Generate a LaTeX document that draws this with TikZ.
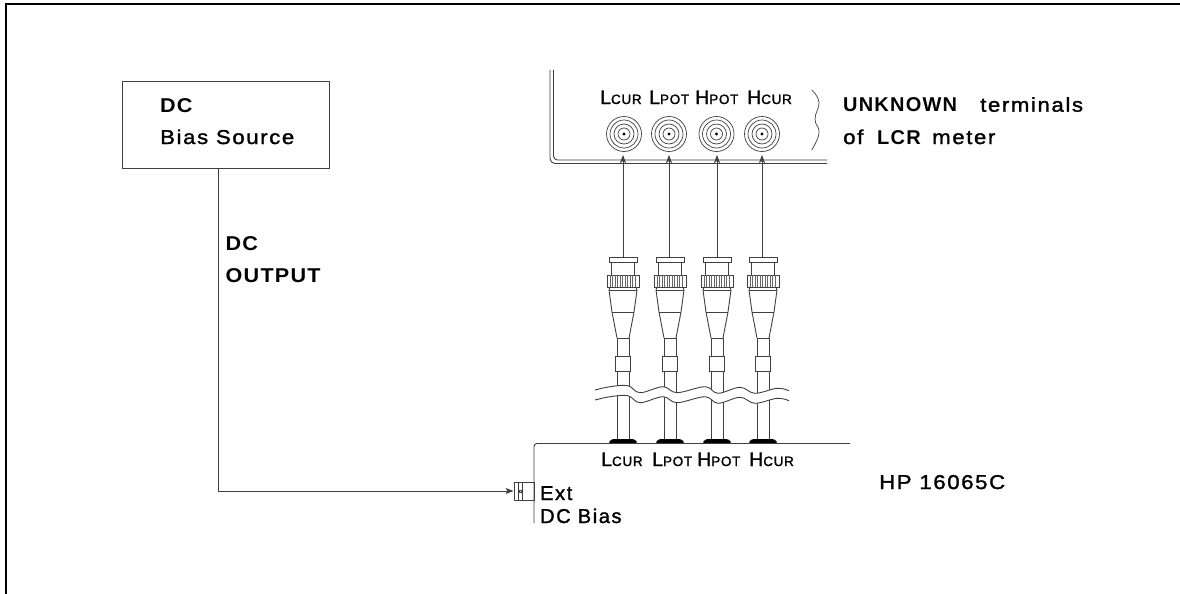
\documentclass[tikz,border=0pt]{standalone}
\usepackage{fontspec}
\setmainfont{Liberation Sans}
\newfontfamily\lab[FakeBold=1.5,FakeStretch=1.11,LetterSpace=8]{Liberation Sans}
\newfontfamily\labb[LetterSpace=6]{Liberation Sans}
\newfontfamily\labs[FakeStretch=1.08,LetterSpace=6]{Liberation Sans}
\newfontfamily\labn[FakeBold=1.5,LetterSpace=8]{Liberation Sans}
\newfontfamily\labt[FakeBold=1.5,LetterSpace=5]{Liberation Sans}
\newcommand{\lgt}[1]{{\fontsize{19.5}{19.5}\selectfont #1}}
\newcommand{\sml}[1]{{\fontsize{13.5}{13.5}\selectfont #1}}
\usetikzlibrary{arrows.meta}
\tikzset{
  x=1pt,y=-1pt,
  thin line/.style={line width=0.9pt,draw=black!75},
  txt/.style={inner sep=0pt,anchor=base west,font=\fontsize{20}{20}\selectfont\lab,text=black},
  btxt/.style={inner sep=0pt,anchor=base west,font=\fontsize{20}{20}\selectfont\labb\bfseries,text=black},
  stxt/.style={inner sep=0pt,anchor=base west,font=\fontsize{20}{20}\selectfont\labs\bfseries,text=black},
  ntxt/.style={inner sep=0pt,anchor=base west,font=\fontsize{20}{20}\selectfont\labn,text=black},
  term/.style={inner sep=0pt,anchor=base west,font=\labt,text=black},
  arrowed/.style={thin line,-{Stealth[length=8pt,width=6pt,inset=2pt]}},
  jackbox/.style={draw=black!75,line width=0.9pt,minimum width=20pt,minimum height=18pt,inner sep=0pt},
  biasbox/.style={draw=black!75,line width=0.9pt,minimum width=207pt,minimum height=87pt,inner sep=0pt},
}
\begin{document}
\begin{tikzpicture}
\useasboundingbox (0,0) rectangle (1180,594);
\fill[white] (0,0) rectangle (1180,594);
% outer frame
\draw[black,line width=2pt] (6,594) -- (6,4) -- (1180,4);
% bias source
\node[biasbox] (bias) at (225.5,124.5) {};
\node[stxt] (biasA) at (160,112.5) {DC};
\node[txt] (biasB) at (160,144) {Bias Source};
\node[stxt] (outA) at (225.5,250) {DC};
\node[stxt] (outB) at (225.5,282) {OUTPUT};
% meter panel
\draw[thin line,rounded corners=5pt] (550,70) -- (550,163.5) -- (827,163.5);
\draw[thin line,rounded corners=4pt] (553.5,70) -- (553.5,160) -- (827,160);
\foreach \n/\l/\s/\x in {a/L/CUR/600,b/L/POT/649,c/H/POT/695,d/H/CUR/747}{
  \node[term] (top\n) at (\x,104) {\lgt{\l}\sml{\s}};
}
\foreach \n/\x in {a/624,b/669,c/716.5,d/762}{
  \coordinate (jack\n) at (\x,134);
  \foreach \r in {17.5,14,10,6}{\draw[thin line,line width=0.7pt] (jack\n) circle (\r);}
  \fill[black] (jack\n) circle (1.7);
}
% brace
\draw[thin line,line width=0.7pt] plot[smooth,tension=0.8] coordinates {(811.7,90) (819,102) (815,119) (819,133) (811.7,150)};
\node[btxt] (unkA) at (843,111.7) {UNKNOWN};
\node[txt] (unkT) at (980,111.7) {terminals};
\node[txt] (unkB) at (843,144) {of};
\node[btxt] (unkC) at (877,144) {LCR};
\node[txt] (unkD) at (932,144) {meter};
% cables
\foreach \n/\c/\ax in {a/623/623,b/670/669,c/717/717,d/763/762}{
\begin{scope}[shift={(\c,0)}]
  \coordinate (cap\n) at (\ax-\c,257);
  \draw[thin line] (-14,257) rectangle (14,262);
  \draw[thin line] (-11.5,262) -- (-11.5,275) (11.5,262) -- (11.5,275);
  \draw[thin line] (-16,275) rectangle (16,287);
  \foreach \k in {-13,-10.5,...,13.5}{\draw[black!60,line width=0.6pt] (\k,275) -- (\k,287);}
  \draw[thin line] (-13,287) -- (-14,290) (13,287) -- (14,290);
  \draw[thin line] (-14,290) -- (14,290);
  \draw[thin line] (-14,290) -- (-11,312) -- (-6,338) (14,290) -- (11,312) -- (6,338);
  \draw[thin line] (-11,312) -- (11,312) (-6,338) -- (6,338);
  \draw[thin line] (-6,338) -- (-6,356) (6,338) -- (6,356);
  \draw[thin line] (-7.5,356) rectangle (7.5,371);
  \draw[thin line] (-6,371) -- (-6,439) (6,371) -- (6,439);
  \fill[black,rounded corners=3pt] (-15,443.5) -- (-12,439) -- (12,439) -- (15,443.5) -- cycle;
\end{scope}
  \coordinate (tip\n) at (\ax,155);
  \draw[arrowed] (cap\n) -- (tip\n);
}
% break in cables
\fill[white] plot[smooth,tension=0.6] coordinates {(595,390) (610,386.7) (628,385.7) (640,392.7) (663,386.7) (677,392.7) (705,386.7) (718,393.3) (740,387.3) (755,393.3) (777,388.3) (789,390.7)}
 -- plot[smooth,tension=0.6] coordinates {(789,400.7) (777,398.3) (755,403.3) (740,397.3) (718,403.3) (705,396.7) (677,402.7) (663,396.7) (640,402.7) (628,395.7) (610,396.7) (595,400)} -- cycle;
\draw[thin line] plot[smooth,tension=0.6] coordinates {(595,390) (610,386.7) (628,385.7) (640,392.7) (663,386.7) (677,392.7) (705,386.7) (718,393.3) (740,387.3) (755,393.3) (777,388.3) (789,390.7)};
\draw[thin line] plot[smooth,tension=0.6] coordinates {(595,400) (610,396.7) (628,395.7) (640,402.7) (663,396.7) (677,402.7) (705,396.7) (718,403.3) (740,397.3) (755,403.3) (777,398.3) (789,400.7)};
% fixture
\draw[thin line,rounded corners=3pt] (534,523) -- (534,443.5) -- (850,443.5);
\foreach \n/\l/\s/\x in {a/L/CUR/601,b/L/POT/652,c/H/POT/697,d/H/CUR/749}{
  \node[term] (bot\n) at (\x,466) {\lgt{\l}\sml{\s}};
}
\node[ntxt] (extA) at (540,500) {Ext};
\node[ntxt] (extB) at (540,523) {DC Bias};
\node[txt] (hp) at (879,489) {HP 16065C};
% ext jack
\node[jackbox] (extjack) at (524,491) {};
\draw[thin line] (518,482) -- (518,500) (522.7,482) -- (522.7,500);
\draw[thin line,line width=0.6pt] (519.3,490) rectangle (521.3,492);
% DC line
\coordinate (dccorner) at (218,491);
\draw[arrowed] (bias.south -| dccorner) -- (dccorner) -- (extjack.west);
\end{tikzpicture}
\end{document}
